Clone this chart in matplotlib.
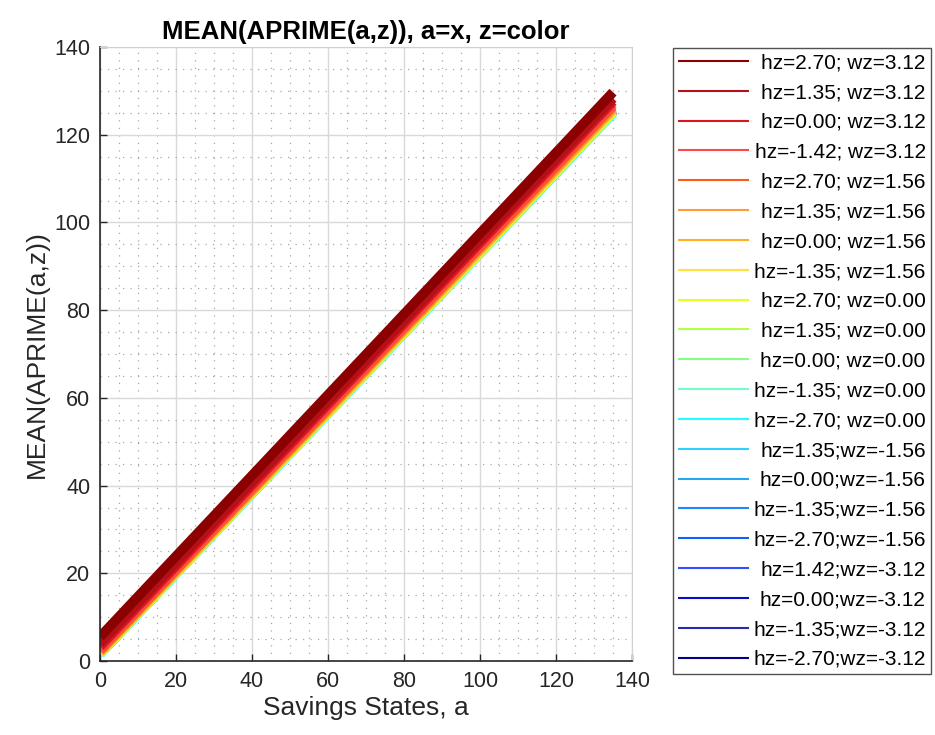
import numpy as np
import matplotlib
matplotlib.use("Agg")
import matplotlib.pyplot as plt
from matplotlib.ticker import MultipleLocator

plt.rcParams['font.family'] = ['Liberation Sans', 'DejaVu Sans']

# savings grid end points
a_ends = [0, 135]

# shock-state labels (hz, wz), top to bottom in the legend
labels = [
    "hz=2.70; wz=3.12", "hz=1.35; wz=3.12", "hz=0.00; wz=3.12", "hz=-1.42; wz=3.12",
    "hz=2.70; wz=1.56", "hz=1.35; wz=1.56", "hz=0.00; wz=1.56", "hz=-1.35; wz=1.56",
    "hz=2.70; wz=0.00", "hz=1.35; wz=0.00", "hz=0.00; wz=0.00", "hz=-1.35; wz=0.00",
    "hz=-2.70; wz=0.00", "hz=1.35;wz=-1.56", "hz=0.00;wz=-1.56", "hz=-1.35;wz=-1.56",
    "hz=-2.70;wz=-1.56", "hz=1.42;wz=-3.12", "hz=0.00;wz=-3.12", "hz=-1.35;wz=-3.12",
    "hz=-2.70;wz=-3.12",
]

colors = [
    "#8b0000", "#b41018", "#d81820", "#ff4848", "#ff5a18", "#ff9a38", "#ffb020",
    "#ffe040", "#e4ff20", "#b4ff48", "#80ff80", "#70ffc4", "#20ffff", "#30d0ff",
    "#20a8f0", "#1e88ff", "#1060ff", "#3050ff", "#0a0acc", "#2a2ab0", "#00008b",
]

# mean a'(a,z) at a=0 and at a=135 for each z
aprime_lo = [5.5, 4.0, 3.3, 2.8, 2.4, 2.2, 2.0, 1.9, 1.8, 1.75, 1.7,
             1.65, 1.6, 2.4, 2.3, 2.2, 2.1, 2.0, 1.9, 1.8, 1.7]
aprime_hi = [129.7, 128.3, 127.6, 127.0, 126.5, 126.1, 125.8, 125.5, 125.3, 125.2, 125.1,
             125.0, 124.9, 126.0, 125.9, 125.8, 125.7, 125.6, 125.5, 125.4, 125.3]

fig = plt.figure(figsize=(9.35, 7.35), dpi=100)
ax = fig.add_axes([100 / 935, 1 - 661 / 735, 532 / 935, 614 / 735])

handles = [None] * len(labels)
# lowest states first so the high ones sit on top
for i in reversed(range(len(labels))):
    h, = ax.plot(a_ends, [aprime_lo[i], aprime_hi[i]], color=colors[i], lw=7,
                 solid_capstyle='butt', label=labels[i])
    handles[i] = h

ax.set_xlim(0, 140)
ax.set_ylim(0, 140)
ax.xaxis.set_major_locator(MultipleLocator(20))
ax.yaxis.set_major_locator(MultipleLocator(20))
ax.xaxis.set_minor_locator(MultipleLocator(5))
ax.yaxis.set_minor_locator(MultipleLocator(5))
ax.grid(which='major', color='#d9d9d9', lw=1.0)
ax.grid(which='minor', color='#a8a8a8', lw=0.9, linestyle=(0, (1, 5)))
ax.set_axisbelow(True)
ax.tick_params(which='major', direction='in', length=5, width=1, labelsize=15.5,
               colors='#262626', pad=7)
ax.tick_params(which='minor', length=0)
for s in ['top', 'right']:
    ax.spines[s].set_color('#d0d0d0')
for s in ['left', 'bottom']:
    ax.spines[s].set_color('#262626')
    ax.spines[s].set_linewidth(1.2)

ax.set_title("MEAN(APRIME(a,z)), a=x, z=color", fontsize=18.5, fontweight='bold', pad=6)
ax.set_xlabel("Savings States, a", fontsize=19, color='#262626', labelpad=3)
ax.set_ylabel("MEAN(APRIME(a,z))", fontsize=19, color='#262626', labelpad=4)

leg = fig.legend(handles, labels, loc='upper left', bbox_to_anchor=(673 / 935, 1 - 48 / 735),
                 fontsize=15, handlelength=3.4, handletextpad=0.2, labelspacing=0.52,
                 borderpad=0.25, borderaxespad=0, fancybox=False, frameon=True)
leg.get_frame().set_edgecolor('#262626')
leg.get_frame().set_linewidth(1.0)
for line in leg.get_lines():
    line.set_linewidth(1.5)

# right-align the legend labels
fig.canvas.draw()
widths = [t.get_window_extent().width for t in leg.get_texts()]
wmax = max(widths)
for t, w in zip(leg.get_texts(), widths):
    t.set_x(wmax - w)

fig.savefig("out.png", dpi=100)
